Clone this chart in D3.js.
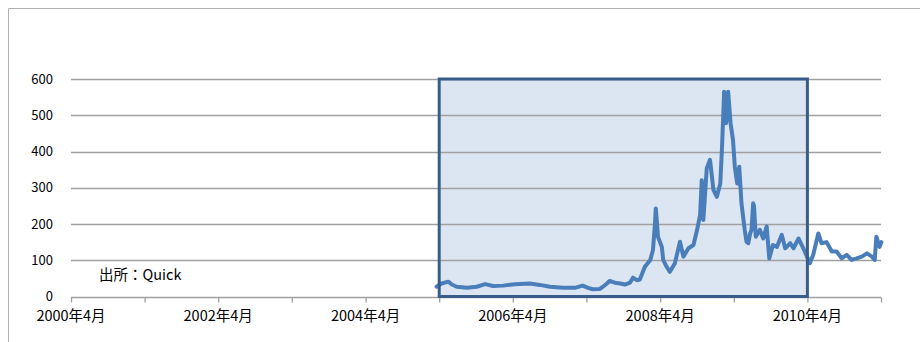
<!DOCTYPE html>
<html>
<head>
<meta charset="utf-8">
<script src="https://cdn.jsdelivr.net/npm/d3@7/dist/d3.min.js"></script>
<style>
  html, body { margin: 0; padding: 0; background: #fff; }
  svg { display: block; }
  text { font-family: "Noto Sans CJK JP", "Noto Sans", sans-serif; fill: #000; }
</style>
</head>
<body>
<svg id="chart" width="920" height="342"></svg>
<script>
// Price series (dates and values)
const dates = [
  "2005-03-19","2005-04-13","2005-05-16","2005-06-03","2005-06-27","2005-08-16","2005-10-04","2005-11-15",
  "2005-12-24","2006-02-12","2006-04-12","2006-06-24","2006-08-13","2006-10-03","2006-12-06","2007-02-03",
  "2007-03-13","2007-04-09","2007-05-03","2007-06-07","2007-06-22","2007-07-12","2007-07-25","2007-08-20",
  "2007-09-15","2007-10-09","2007-11-03","2007-11-18","2007-12-07","2007-12-22","2008-01-16","2008-02-12",
  "2008-02-25","2008-03-06","2008-03-10","2008-03-15","2008-03-21","2008-04-09","2008-04-16","2008-05-03",
  "2008-05-19","2008-06-13","2008-07-08","2008-07-25","2008-08-19","2008-09-13","2008-10-01","2008-10-16",
  "2008-10-24","2008-11-01","2008-11-18","2008-12-04","2008-12-21","2009-01-07","2009-01-24","2009-02-01",
  "2009-02-12","2009-02-22","2009-03-04","2009-03-16","2009-03-28","2009-04-06","2009-04-18","2009-04-28",
  "2009-05-09","2009-05-25","2009-06-03","2009-06-12","2009-06-21","2009-06-28","2009-07-06","2009-07-10",
  "2009-07-19","2009-08-08","2009-08-25","2009-09-11","2009-09-24","2009-10-12","2009-11-01","2009-11-25",
  "2009-12-12","2010-01-06","2010-01-22","2010-02-16","2010-03-04","2010-03-19","2010-04-13","2010-04-30",
  "2010-05-25","2010-06-10","2010-07-05","2010-07-31","2010-08-24","2010-09-18","2010-10-13","2010-11-06",
  "2010-12-01","2010-12-27","2011-01-21","2011-02-15","2011-03-01","2011-03-09","2011-03-25","2011-04-03"
];
const values = [
  27, 36, 41, 33, 27, 24, 27, 34,
  29, 30, 34, 36, 32, 27, 24, 24,
  30, 24, 20, 21, 27, 36, 43, 38,
  36, 33, 38, 52, 45, 47, 82, 101,
  128, 200, 243, 210, 165, 137, 101, 82,
  68, 92, 151, 110, 133, 142, 184, 225,
  321, 211, 354, 377, 294, 275, 312, 404,
  565, 478, 565, 478, 432, 358, 312, 358,
  257, 184, 151, 147, 174, 184, 257, 250,
  165, 184, 160, 193, 105, 142, 137, 170,
  133, 147, 133, 160, 142, 124, 92, 115,
  174, 147, 150, 124, 124, 105, 115, 101,
  105, 110, 119, 110, 101, 165, 137, 150
];

// Axis ticks and labels
const yTicks = [0, 100, 200, 300, 400, 500, 600];
const xTickYears = [2000, 2001, 2002, 2003, 2004, 2005, 2006, 2007, 2008, 2009, 2010, 2011];
const xLabelYears = [2000, 2002, 2004, 2006, 2008, 2010];

// Highlighted period
const highlightStart = "2005-04-01";
const highlightEnd = "2010-04-01";
const highlightTop = 600;

const sourceNote = "出所：Quick";

const parse = d3.timeParse("%Y-%m-%d");
const series = dates.map((d, i) => ({ date: parse(d), value: values[i] }));

const svg = d3.select("#chart");

const x = d3.scaleTime()
  .domain([new Date(2000, 3, 1), new Date(2011, 3, 1)])
  .range([71, 881]);
const y = d3.scaleLinear()
  .domain([0, 600])
  .range([296.5, 79]);

// Outer frame
svg.append("path")
  .attr("d", "M8.5,342 V8.5 H920")
  .attr("fill", "none")
  .attr("stroke", "#b3b3b3")
  .attr("stroke-width", 1);

// Highlight box fill
const hx0 = x(parse(highlightStart)), hx1 = x(parse(highlightEnd));
svg.append("rect")
  .attr("x", hx0).attr("y", y(highlightTop))
  .attr("width", hx1 - hx0).attr("height", y(0) - y(highlightTop))
  .attr("fill", "#dce6f2");

// Horizontal gridlines
svg.append("g")
  .selectAll("line")
  .data(yTicks)
  .join("line")
  .attr("x1", x.range()[0]).attr("x2", x.range()[1])
  .attr("y1", d => Math.round(y(d)) + 0.5)
  .attr("y2", d => Math.round(y(d)) + 0.5)
  .attr("stroke", "#a0a0a0")
  .attr("stroke-width", 1.3);

// Y axis labels
svg.append("g")
  .selectAll("text")
  .data(yTicks)
  .join("text")
  .attr("x", 53)
  .attr("y", d => y(d))
  .attr("dy", "0.35em")
  .attr("text-anchor", "end")
  .attr("font-size", 13)
  .text(d => d);

// X axis tick marks
const xAxis = d3.axisBottom(x)
  .tickValues(xTickYears.map(yr => new Date(yr, 3, 1)))
  .tickSize(5)
  .tickFormat("");
const gx = svg.append("g")
  .attr("transform", `translate(0,${Math.round(y(0)) + 0.5})`)
  .call(xAxis);
gx.select(".domain").remove();
gx.selectAll(".tick line").attr("stroke", "#a0a0a0").attr("stroke-width", 1.3);

// X axis labels
svg.append("g")
  .selectAll("text")
  .data(xLabelYears)
  .join("text")
  .attr("x", d => x(new Date(d, 3, 1)))
  .attr("y", 321)
  .attr("text-anchor", "middle")
  .attr("font-size", 14.5)
  .text(d => `${d}年4月`);

// Price line
const line = d3.line()
  .x(d => x(d.date))
  .y(d => y(d.value))
  .curve(d3.curveLinear);
svg.append("path")
  .datum(series)
  .attr("d", line)
  .attr("fill", "none")
  .attr("stroke", "#4a7ebb")
  .attr("stroke-width", 4)
  .attr("stroke-linejoin", "round")
  .attr("stroke-linecap", "round");

// Highlight box border
svg.append("rect")
  .attr("x", hx0).attr("y", y(highlightTop))
  .attr("width", hx1 - hx0).attr("height", y(0) - y(highlightTop))
  .attr("fill", "none")
  .attr("stroke", "#385d8a")
  .attr("stroke-width", 3);

// Source note
svg.append("text")
  .attr("x", 99)
  .attr("y", 275)
  .attr("dy", "0.35em")
  .attr("font-size", 14.5)
  .text(sourceNote);
</script>
</body>
</html>
